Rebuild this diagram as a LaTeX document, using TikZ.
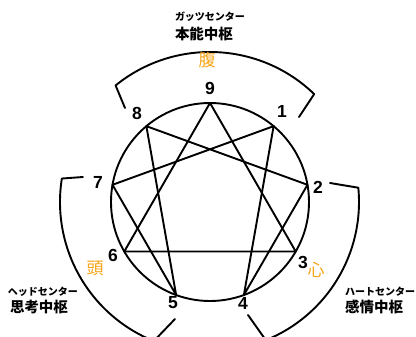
\documentclass[tikz,border=0pt]{standalone}
\usepackage{fontspec}
\setmainfont{Liberation Sans}
\newfontfamily\jp{Noto Sans CJK JP}
\usetikzlibrary{calc}
\definecolor{ennorange}{RGB}{245,165,25}
\begin{document}
\begin{tikzpicture}[x=1pt,y=1pt,line width=1.9pt,line cap=round,line join=round,
  num/.style={inner sep=0pt,font=\fontsize{17.5}{17.5}\selectfont\bfseries},
  kana/.style={inner sep=0pt,font=\jp\bfseries\fontsize{10}{10}\selectfont},
  center/.style={inner sep=0pt,font=\jp\bfseries\fontsize{14.5}{14.5}\selectfont},
  kanji/.style={inner sep=0pt,text=ennorange,font=\jp\fontsize{17}{17}\selectfont}]
\useasboundingbox (0,0) rectangle (416,337);
\clip (0,0) rectangle (416,337);
\coordinate (c) at (210,135);
\draw (c) circle[radius=99];
\foreach \n/\a in {9/90,1/50,2/10,3/-30,4/-70,5/-110,6/-150,7/170,8/130}
  \coordinate (v\n) at ($(c)+(\a:99)$);
% triangle and hexad
\draw (v9) -- (v3) -- (v6) -- cycle;
\draw (v1) -- (v4) -- (v2) -- (v8) -- (v5) -- (v7) -- cycle;
% number labels
\node[num] (n9) at (210,249) {9};
\node[num] (n8) at (137,224) {8};
\node[num] (n1) at (282,226) {1};
\node[num] (n2) at (318,150) {2};
\node[num] (n7) at (98,155) {7};
\node[num] (n6) at (113,82) {6};
\node[num] (n3) at (303,75) {3};
\node[num] (n5) at (173,34) {5};
\node[num] (n4) at (243,34) {4};
% brackets
\coordinate (ta) at ($(c)+(129:150)$);
\coordinate (ta2) at (125,229);
\coordinate (tb2) at (299,220);
\draw (ta2) -- (ta) arc[start angle=129,end angle=46,radius=150] -- (tb2);
\coordinate (la) at ($(c)+(171:150)$);
\coordinate (la2) at (83,160);
\coordinate (lb2) at (175,18);
\draw (la2) -- (la) arc[start angle=171,end angle=248,radius=150] -- (lb2);
\coordinate (ra) at ($(c)+(5.5:149)$);
\coordinate (ra2) at (330,154);
\coordinate (rb2) at (248,22);
\draw (ra2) -- (ra) arc[start angle=5.5,end angle=-68,radius=149] -- (rb2);
% centre labels
\node[kana] (gk) at (210,320) {ガッツセンター};
\node[center] (gc) at (204,303) {本能中枢};
\node[kanji] (gb) at (207,277) {腹};
\node[kana] (hk) at (43,45) {ヘッドセンター};
\node[center] (hc) at (39,30) {思考中枢};
\node[kanji] (hb) at (95,69) {頭};
\node[kana] (rk) at (380,45) {ハートセンター};
\node[center] (rc) at (374,30) {感情中枢};
\node[kanji] (rb) at (316,67) {心};
\end{tikzpicture}
\end{document}
